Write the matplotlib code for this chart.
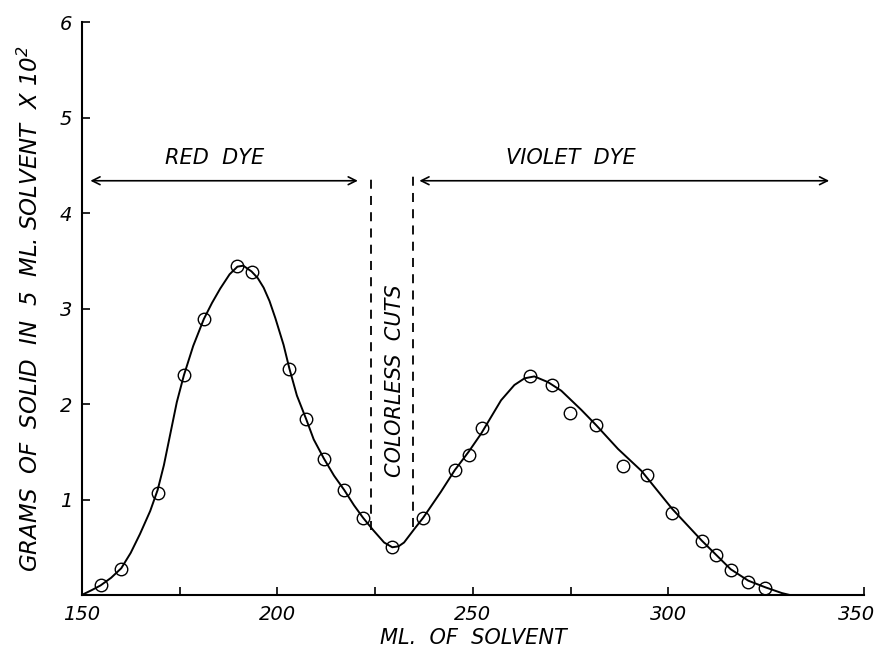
import numpy as np
import matplotlib.pyplot as plt
import matplotlib.transforms as mtransforms

plt.rcParams['font.family'] = ['DejaVu Sans']
plt.rcParams['font.style'] = 'italic'

# measured points (ml of solvent, grams x 10^2)
ml_pts = [154.8, 160.1, 169.4, 176.1, 181.2, 189.8, 193.4, 203.1, 207.4, 211.9,
          217.1, 221.9, 229.4, 237.3, 245.4, 248.9, 252.4, 264.7, 270.1, 274.7,
          281.5, 288.4, 294.4, 301.0, 308.5, 312.1, 315.9, 320.4, 324.8]
g_pts = [0.10, 0.27, 1.07, 2.30, 2.89, 3.45, 3.38, 2.37, 1.84, 1.43,
         1.10, 0.81, 0.50, 0.81, 1.31, 1.47, 1.75, 2.29, 2.20, 1.91,
         1.78, 1.35, 1.26, 0.86, 0.57, 0.42, 0.26, 0.14, 0.07]

# hand drawn curve
ml_curve = [150.0, 152.5, 154.8, 157.5, 160.1, 162.5, 164.9, 167.5, 169.4, 171.0,
            172.6, 174.3, 176.1, 178.5, 181.2, 183.3, 185.4, 187.8, 189.8, 191.3,
            193.4, 195.0, 196.5, 198.0, 199.5, 201.6, 203.1, 205.0, 207.4, 209.3,
            211.9, 214.5, 217.1, 219.6, 221.9, 224.5, 227.3, 229.4, 231.0, 232.4,
            235.0, 237.3, 241.8, 245.4, 248.9, 252.1, 257.2, 260.6, 263.2, 265.7,
            269.2, 272.6, 277.7, 281.5, 287.1, 293.1, 301.0, 308.5, 315.9, 320.4,
            324.8, 329.0, 331.0]
g_curve = [0.00, 0.05, 0.10, 0.18, 0.28, 0.44, 0.64, 0.88, 1.10, 1.36,
           1.68, 2.02, 2.30, 2.61, 2.89, 3.06, 3.21, 3.36, 3.44, 3.45,
           3.39, 3.32, 3.22, 3.08, 2.90, 2.62, 2.37, 2.09, 1.84, 1.63,
           1.43, 1.25, 1.10, 0.94, 0.81, 0.68, 0.55, 0.50, 0.51, 0.55,
           0.69, 0.81, 1.08, 1.31, 1.50, 1.69, 2.04, 2.20, 2.27, 2.29,
           2.23, 2.14, 1.94, 1.78, 1.53, 1.30, 0.90, 0.57, 0.27, 0.15,
           0.08, 0.02, 0.00]

cut_left = 224.0
cut_right = 234.6

fig = plt.figure(figsize=(8.79, 6.56), dpi=100)
ax = fig.add_axes([0.093, 0.093, 0.890, 0.873])

ax.plot(ml_curve, g_curve, color='black', lw=1.4)
ax.plot(ml_pts, g_pts, 'o', ms=9, mfc='none', mec='black', mew=1.0)

# colorless cut boundaries
ax.plot([cut_left, cut_left], [0.68, 4.37], color='black', lw=1.3, ls=(0, (5, 4)))
ax.plot([cut_right, cut_right], [0.71, 4.39], color='black', lw=1.3, ls=(0, (5, 4)))

# fraction arrows
ax.annotate('', xy=(151.5, 4.34), xytext=(221.3, 4.34),
            arrowprops=dict(arrowstyle='<->', lw=1.2, color='black', mutation_scale=14))
ax.annotate('', xy=(235.6, 4.34), xytext=(341.8, 4.34),
            arrowprops=dict(arrowstyle='<->', lw=1.2, color='black', mutation_scale=14))
ax.text(184, 4.58, 'RED  DYE', fontsize=15, ha='center', va='center')
ax.text(275, 4.58, 'VIOLET  DYE', fontsize=15, ha='center', va='center')
ax.text(230.2, 2.25, 'COLORLESS  CUTS', fontsize=15, ha='center', va='center', rotation=90)

ax.set_xlim(150, 350)
ax.set_ylim(0, 6)
ax.set_xticks([150, 200, 250, 300, 350])
ax.set_xticks([175, 225, 275], minor=True)
ax.set_yticks([1, 2, 3, 4, 5, 6])
ax.tick_params(axis='both', which='both', direction='in', length=6, width=1.2, labelsize=14, pad=7)
for s in ['top', 'right']:
    ax.spines[s].set_visible(False)
for s in ['left', 'bottom']:
    ax.spines[s].set_linewidth(1.5)

# keep the last x label inside the figure
last = ax.get_xticklabels()[-1]
last.set_transform(last.get_transform() + mtransforms.ScaledTranslation(-8 / 100, 0, fig.dpi_scale_trans))

ax.set_xlabel('ML.  OF  SOLVENT', fontsize=15, labelpad=3)
ax.set_ylabel('GRAMS  OF  SOLID  IN  5  ML. SOLVENT  X 10$^2$', fontsize=16.5, labelpad=12)

plt.savefig('out.png', dpi=100)
